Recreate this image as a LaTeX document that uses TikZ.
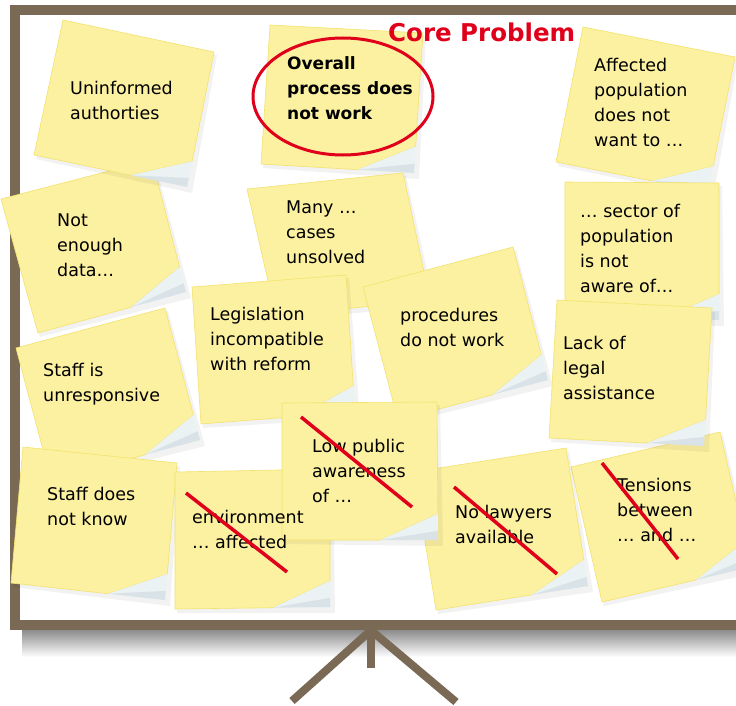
\documentclass[tikz,border=0pt]{standalone}
\usepackage{fontspec}
\setmainfont{DejaVu Sans}
\usetikzlibrary{calc}
\definecolor{board}{RGB}{122,106,85}
\definecolor{notefill}{RGB}{252,241,160}
\definecolor{noteedge}{RGB}{243,226,110}
\definecolor{curlc}{RGB}{234,242,244}
\definecolor{curld}{RGB}{188,200,207}
\definecolor{strikered}{RGB}{224,0,27}
\newcommand{\pnote}[4]{%
  \coordinate (tl) at #1; \coordinate (tr) at #2; \coordinate (br) at #3; \coordinate (bl) at #4;
  \coordinate (tip) at ($(br)!0.19!(tr)$);
  \coordinate (cb) at ($(br)!0.37!(bl)$);
  \fill[black,opacity=0.05] ([shift={(2,3)}]tl) -- ([shift={(3,3)}]tr) -- ([shift={(5,6)}]br) -- ([shift={(2,4)}]bl) -- cycle;
  \fill[notefill, draw=noteedge, line width=0.6] (tl) -- (tr) -- (tip) -- (cb) -- (bl) -- cycle;
  \fill[curlc] (cb) -- (tip) -- (br) -- cycle;
  \fill[curld, opacity=0.35] (cb) -- (br) -- ($(br)!0.35!(tip)$) -- cycle;
}
\tikzset{
  notetext/.style={anchor=north west, inner sep=0pt, align=left, font=\fontsize{17.5}{25}\selectfont},
  boldtext/.style={notetext, font=\fontsize{17}{25}\selectfont\bfseries},
  strikeline/.style={draw=strikered, line width=3.5pt},
  boardline/.style={draw=board, line width=8pt}
}
\begin{document}
\begin{tikzpicture}[x=1pt,y=-1pt]
\useasboundingbox (0,0) rectangle (736,706);
\fill[white] (0,0) rectangle (736,706);
% board shadow and stand
\shade[top color=black!45, bottom color=white] (22,630) rectangle (736,657);
\draw[boardline] (371,630) -- (371,668);
\draw[boardline] (369,632) -- (292,701);
\draw[boardline] (373,632) -- (456,702);
% board frame
\draw[board, line width=10pt] (15,10) rectangle (770,625);
% notes
\pnote{(1,199)}{(152,160)}{(186,292)}{(38,333)}
\pnote{(63,20)}{(214,52)}{(187,187)}{(34,155)}
\pnote{(270,25)}{(423,33)}{(414,173)}{(261,164)}
\pnote{(247,189)}{(403,173)}{(430,300)}{(276,316)}
\pnote{(192,287)}{(346,275)}{(355,412)}{(201,424)}
\pnote{(363,287)}{(513,247)}{(548,380)}{(398,420)}
\pnote{(583,27)}{(735,57)}{(708,192)}{(556,162)}
\pnote{(565,182)}{(719,183)}{(719,320)}{(565,318)}
\pnote{(571,467)}{(720,432)}{(751,567)}{(602,602)}
\pnote{(557,300)}{(712,308)}{(704,446)}{(549,438)}
\pnote{(16,348)}{(165,308)}{(200,440)}{(51,480)}
\pnote{(23,447)}{(177,463)}{(165,600)}{(11,583)}
\pnote{(175,472)}{(330,469)}{(330,607)}{(175,609)}
\pnote{(414,472)}{(566,448)}{(588,586)}{(436,610)}
\pnote{(282,403)}{(437,402)}{(438,540)}{(282,540)}
% texts
\node[notetext] (t1) at (70,76.5) {\strut Uninformed\\authorties};
\node[boldtext] (t2) at (287,51.5) {\strut Overall\\process does\\not work};
\node[notetext] (t3) at (594,53.5) {\strut Affected\\population\\does not\\want to …};
\node[notetext] (t4) at (57,208.5) {\strut Not\\enough\\data…};
\node[notetext] (t5) at (286,195.5) {\strut Many …\\cases\\unsolved};
\node[notetext] (t6) at (210,302.5) {\strut Legislation\\incompatible\\with reform};
\node[notetext] (t7) at (400,303.5) {\strut procedures\\do not work};
\node[notetext] (t8) at (580,199.5) {\strut … sector of\\population\\is not\\aware of…};
\node[notetext] (t9) at (563,331.5) {\strut Lack of\\legal\\assistance};
\node[notetext] (t10) at (43,358.5) {\strut Staff is\\unresponsive};
\node[notetext] (t11) at (47,482.5) {\strut Staff does\\not know};
\node[notetext] (t12) at (192,505.5) {\strut environment\\… affected};
\node[notetext] (t13) at (312,434.5) {\strut Low public\\awareness\\of …};
\node[notetext] (t14) at (455,500.5) {\strut No lawyers\\available};
\node[notetext] (t15) at (617,473.5) {\strut Tensions\\between\\… and …};
% strikes
\draw[strikeline] (186,493) -- (287,572);
\draw[strikeline] (301,417) -- (412,507);
\draw[strikeline] (454,487) -- (557,574);
\draw[strikeline] (602,463) -- (678,559);
% core problem
\draw[strikered, line width=3pt] (343,96.5) ellipse [x radius=90, y radius=58.5];
\node[anchor=west, inner sep=0pt, text=strikered, font=\fontsize{24.5}{28}\selectfont\bfseries] (core) at (388,32) {Core Problem};
\end{tikzpicture}
\end{document}
